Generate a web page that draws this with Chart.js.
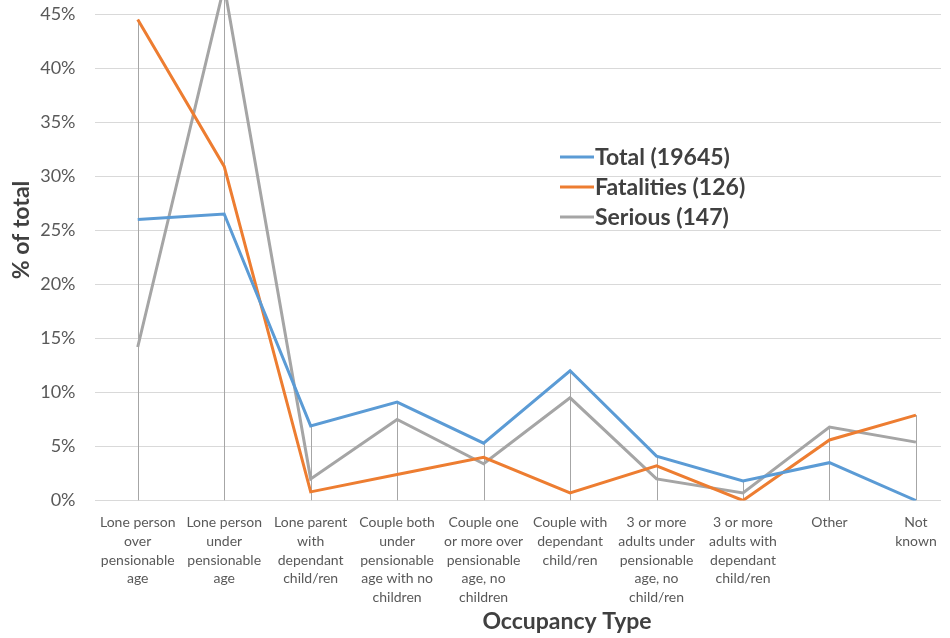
<!DOCTYPE html>
<html>
<head>
<meta charset="utf-8">
<script src="https://cdn.jsdelivr.net/npm/chart.js@4.4.1/dist/chart.umd.min.js"></script>
<style>
  html, body { margin: 0; padding: 0; background: #ffffff; }
  #wrap { width: 950px; height: 638px; position: relative; }
</style>
</head>
<body>
<div id="wrap"><canvas id="c" width="950" height="638"></canvas></div>
<script>
const categories = [
  ["Lone person","over","pensionable","age"],
  ["Lone person","under","pensionable","age"],
  ["Lone parent","with","dependant","child/ren"],
  ["Couple both","under","pensionable","age with no","children"],
  ["Couple one","or more over","pensionable","age, no","children"],
  ["Couple with","dependant","child/ren"],
  ["3 or more","adults under","pensionable","age, no","child/ren"],
  ["3 or more","adults with","dependant","child/ren"],
  ["Other"],
  ["Not","known"]
];
const totalValues      = [26.0, 26.5, 6.9, 9.1, 5.3, 12.0, 4.1, 1.8, 3.5, 0.0];
const fatalitiesValues = [44.5, 30.9, 0.8, 2.4, 4.0, 0.7, 3.2, 0.0, 5.6, 7.9];
const seriousValues    = [14.2, 47.6, 2.0, 7.5, 3.4, 9.5, 2.0, 0.7, 6.8, 5.4];
const seriesNames = ["Total (19645)", "Fatalities (126)", "Serious (147)"];
const yTicks = [0, 5, 10, 15, 20, 25, 30, 35, 40, 45];
const xTitle = "Occupancy Type";
const yTitle = "% of total";

const colors = ["#5b9bd5", "#ed7d31", "#a5a5a5"];
const allSeries = [totalValues, fatalitiesValues, seriousValues];

const dropLines = {
  id: 'dropLines',
  beforeDatasetsDraw(chart) {
    const {ctx, chartArea} = chart;
    const xs = chart.scales.x, ys = chart.scales.y;
    ctx.save();
    ctx.beginPath();
    ctx.rect(chartArea.left, 0, chartArea.right - chartArea.left, chartArea.bottom);
    ctx.clip();
    ctx.strokeStyle = '#a6a6a6';
    ctx.lineWidth = 1;
    categories.forEach((_, i) => {
      const maxV = Math.max(...allSeries.map(s => s[i]));
      const x = Math.round(xs.getPixelForValue(i)) + 0.5;
      ctx.beginPath();
      ctx.moveTo(x, ys.getPixelForValue(maxV));
      ctx.lineTo(x, ys.getPixelForValue(0));
      ctx.stroke();
    });
    ctx.restore();
  }
};

const extras = {
  id: 'extras',
  afterDraw(chart) {
    const ctx = chart.ctx;
    ctx.save();
    // legend
    ctx.font = 'bold 23px Lato';
    ctx.textBaseline = 'middle';
    ctx.textAlign = 'left';
    seriesNames.forEach((name, i) => {
      const y = 157 + i * 30;
      ctx.strokeStyle = colors[i];
      ctx.lineWidth = 3;
      ctx.beginPath();
      ctx.moveTo(560, y);
      ctx.lineTo(594, y);
      ctx.stroke();
      ctx.fillStyle = '#404040';
      ctx.fillText(name, 595, y + 1);
    });
    // axis titles
    ctx.fillStyle = '#404040';
    ctx.font = 'bold 23px Lato';
    ctx.textAlign = 'center';
    ctx.fillText(xTitle, 567, 622);
    ctx.translate(22, 230);
    ctx.rotate(-Math.PI / 2);
    ctx.fillText(yTitle, 0, 0);
    ctx.restore();
  }
};

new Chart(document.getElementById('c'), {
  type: 'line',
  data: {
    datasets: allSeries.map((vals, k) => ({
      label: seriesNames[k],
      data: vals.map((v, i) => ({x: i, y: v})),
      borderColor: colors[k],
      backgroundColor: colors[k],
      borderWidth: 3,
      pointRadius: 0,
      tension: 0,
      fill: false,
      clip: {left: 0, top: 40, right: 0, bottom: 0}
    }))
  },
  options: {
    responsive: false,
    animation: false,
    devicePixelRatio: 1,
    layout: { padding: { top: 0, right: 9, bottom: 0, left: 0 } },
    plugins: { legend: { display: false }, tooltip: { enabled: false } },
    scales: {
      x: {
        type: 'linear',
        min: -0.5,
        max: 9.29,
        afterBuildTicks: s => { s.ticks = categories.map((_, i) => ({value: i})); },
        afterFit: s => { s.height = 137.5; },
        grid: { display: false, drawTicks: false },
        border: { display: false },
        ticks: {
          autoSkip: false,
          maxRotation: 0,
          minRotation: 0,
          padding: 13,
          color: '#595959',
          font: { family: 'Lato', size: 14, lineHeight: 1.33 },
          callback: v => categories[v]
        }
      },
      y: {
        min: 0,
        max: 45,
        afterBuildTicks: s => { s.ticks = yTicks.map(v => ({value: v})); },
        afterFit: s => { s.width = 94.5; },
        afterSetDimensions: s => { s.paddingTop = 0; },
        grid: { color: '#d9d9d9', lineWidth: 1, drawTicks: false },
        border: { display: false },
        ticks: {
          padding: 19,
          color: '#595959',
          font: { family: 'Lato', size: 18 },
          callback: v => v + '%'
        }
      }
    }
  },
  plugins: [dropLines, extras, {
    id: 'areaFix',
    afterLayout(chart) {
      // extend plot area so 45% gridline sits 14px below the top edge
      const ys = chart.scales.y;
      ys.top = 14; ys.height = ys.bottom - ys.top;
      ys.configure();
      chart.chartArea.top = 14;
      chart.scales.x.top = ys.bottom;
    }
  }]
});
</script>
</body>
</html>
